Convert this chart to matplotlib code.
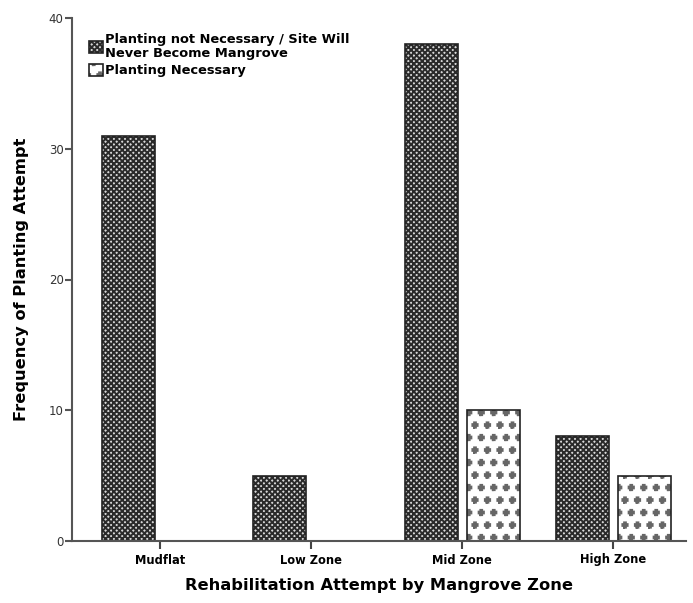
import numpy as np
import matplotlib as mpl
import matplotlib.pyplot as plt
from matplotlib.path import Path
from matplotlib import hatch as mhatch


# plus-sign hatch (takes the place of the star pattern, used via '*')
class Pluses(mhatch.Shapes):
    size = 0.21
    filled = True

    def __init__(self, hatch, density):
        self.num_rows = hatch.count('*') * 8
        a, b = 0.34, 1.0
        verts = np.array([[-a, -b], [a, -b], [a, -a], [b, -a], [b, a], [a, a],
                          [a, b], [-a, b], [-a, a], [-b, a], [-b, -a], [-a, -a],
                          [-a, -b]])
        self.shape_vertices = verts
        self.shape_codes = np.full(len(verts), Path.LINETO, dtype=Path.code_type)
        self.shape_codes[0] = Path.MOVETO
        super().__init__(hatch, density)


mhatch._hatch_types = [Pluses if c is mhatch.Stars else c for c in mhatch._hatch_types]

zones = ['Mudflat', 'Low Zone', 'Mid Zone', 'High Zone']
not_necessary = [31, 5, 38, 8]
necessary = [0, 0, 10, 5]
series_names = ['Planting not Necessary / Site Will\nNever Become Mangrove',
                'Planting Necessary']

mpl.rcParams['font.family'] = 'DejaVu Sans'
mpl.rcParams['hatch.linewidth'] = 1.4

fig = plt.figure(figsize=(6.93, 6.03), dpi=100)
ax = fig.add_axes([72 / 693, 1 - 541 / 603, (686 - 72) / 693, (541 - 18) / 603])

x = np.arange(len(zones))
w = 0.35
off = 0.205
b1 = ax.bar(x - off, not_necessary, w, facecolor='#d8d8d8', edgecolor='#222222',
            hatch='xxxxxx', linewidth=1.2, label=series_names[0])
nec = [v if v > 0 else np.nan for v in necessary]
b2 = ax.bar(x + off, nec, w, facecolor='white', edgecolor='#222222',
            hatch='*', linewidth=1.2, label=series_names[1])
for p in b1.patches:
    p._hatch_color = mpl.colors.to_rgba('#2a2a2a')
for p in b2.patches:
    p._hatch_color = mpl.colors.to_rgba('#666666')

ax.set_xlim(-0.58, 3.48)
ax.set_ylim(0, 40)
ax.set_yticks([0, 10, 20, 30, 40])
ax.set_xticks(x)
ax.set_xticklabels(zones, fontweight='bold', fontsize=8.3)
ax.tick_params(axis='y', labelsize=8.5, color='#555555', length=5, width=1.5, pad=1)
ax.tick_params(axis='x', length=6, width=1.5, color='#444444', pad=3)
for lab in ax.get_yticklabels():
    lab.set_color('#333333')

for s in ['top', 'right']:
    ax.spines[s].set_visible(False)
for s in ['left', 'bottom']:
    ax.spines[s].set_color('#555555')
    ax.spines[s].set_linewidth(1.5)

ax.set_xlabel('Rehabilitation Attempt by Mangrove Zone', fontweight='bold',
              fontsize=11.7, labelpad=8)
ax.set_ylabel('Frequency of Planting Attempt', fontweight='bold',
              fontsize=11.7, labelpad=14)

leg = ax.legend(loc='upper left', bbox_to_anchor=(0.012, 0.988), frameon=False,
                prop={'weight': 'bold', 'size': 9.4}, handlelength=1.1,
                handleheight=1.05, handletextpad=0.2, labelspacing=0.3,
                borderaxespad=0.3)
for t in leg.get_texts():
    t.set_linespacing(1.05)

plt.savefig('out.png', dpi=100)
